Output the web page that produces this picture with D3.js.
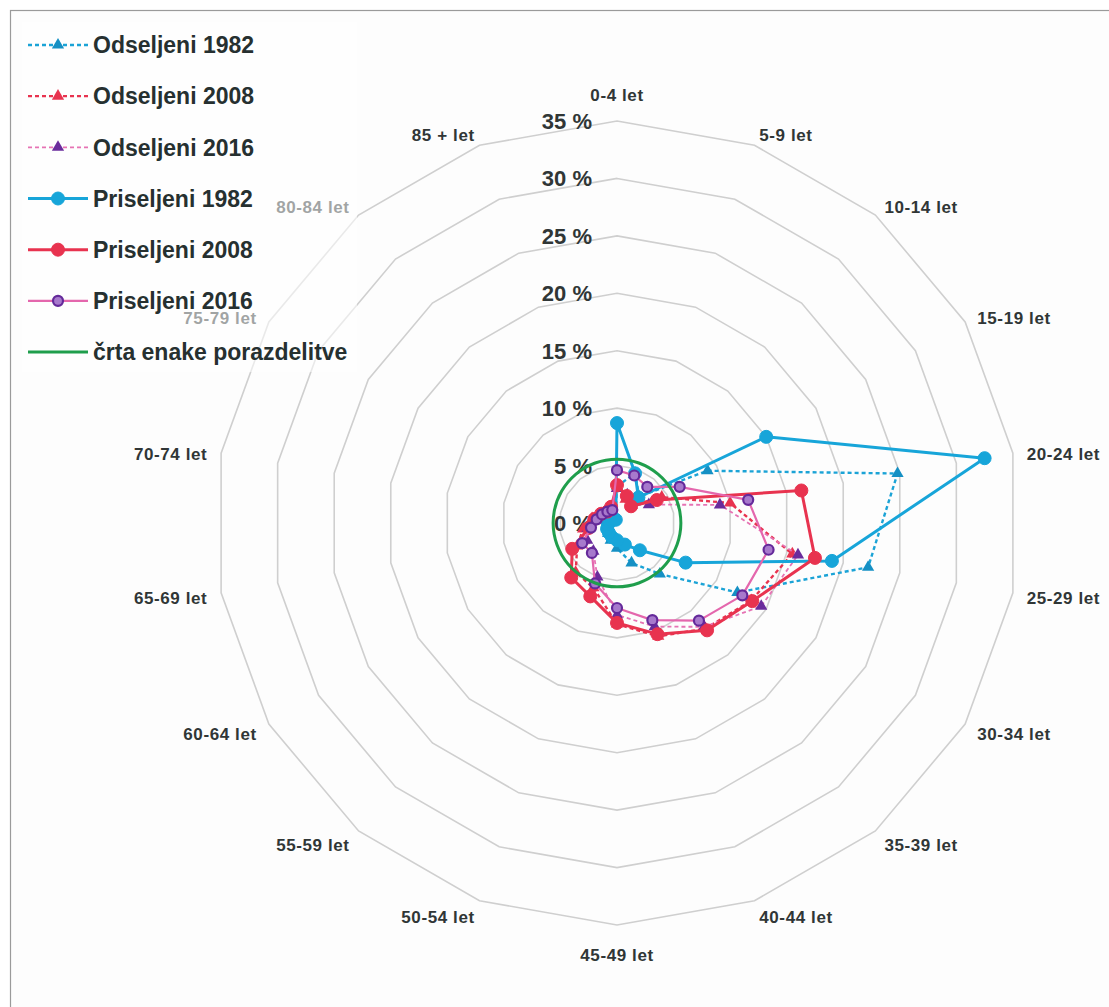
<!DOCTYPE html>
<html>
<head>
<meta charset="utf-8">
<script src="https://cdn.jsdelivr.net/npm/d3@7"></script>
<style>
  body { margin: 0; background: #fff; }
  text { font-family: "Liberation Sans", Arial, sans-serif; }
</style>
</head>
<body>
<svg id="chart" width="1109" height="1007"></svg>
<script>
// Age groups, clockwise from the top
const categories = ["0-4 let", "5-9 let", "10-14 let", "15-19 let", "20-24 let", "25-29 let",
    "30-34 let", "35-39 let", "40-44 let", "45-49 let", "50-54 let", "55-59 let",
    "60-64 let", "65-69 let", "70-74 let", "75-79 let", "80-84 let", "85 + let"];

const tickValues = [0, 5, 10, 15, 20, 25, 30, 35];
const tickLabels = ["0 %", "5 %", "10 %", "15 %", "20 %", "25 %", "30 %", "35 %"];

// shares in %
const odseljeni1982 = [3.2, 4.6, 3.0, 9.1, 24.8, 22.2, 12.1, 5.8, 3.7, 2.2, 1.6, 1.2, 1.0, 0.8, 0.6, 0.5, 0.4, 0.4];
const odseljeni2008 = [3.0, 2.2, 2.0, 4.5, 10.0, 15.5, 13.5, 12.0, 10.5, 8.8, 6.0, 5.6, 4.0, 3.0, 2.2, 1.5, 1.2, 1.0];
const odseljeni2016 = [3.0, 2.6, 2.4, 3.2, 9.1, 16.0, 14.5, 11.8, 9.6, 8.0, 5.0, 3.2, 3.0, 2.6, 2.0, 1.6, 1.3, 1.0];
const priseljeni1982 = [8.7, 4.6, 2.9, 15.0, 32.5, 19.0, 6.9, 3.1, 2.0, 1.5, 1.3, 1.1, 1.0, 0.8, 0.7, 0.5, 0.4, 0.3];
const priseljeni2008 = [3.3, 2.5, 1.9, 4.0, 16.3, 17.5, 13.6, 12.2, 10.3, 8.7, 6.8, 6.2, 4.5, 2.5, 2.0, 1.6, 1.3, 1.5];
const priseljeni2016 = [4.6, 4.4, 4.1, 6.3, 11.6, 13.4, 12.6, 11.1, 9.0, 7.4, 5.6, 3.4, 3.5, 2.3, 1.8, 1.5, 1.3, 1.2];
const enakaPorazdelitev = [5.56, 5.56, 5.56, 5.56, 5.56, 5.56, 5.56, 5.56, 5.56,
    5.56, 5.56, 5.56, 5.56, 5.56, 5.56, 5.56, 5.56, 5.56];

const seriesNames = ["Odseljeni 1982", "Odseljeni 2008", "Odseljeni 2016",
    "Priseljeni 1982", "Priseljeni 2008", "Priseljeni 2016", "črta enake porazdelitve"];
const seriesValues = [odseljeni1982, odseljeni2008, odseljeni2016,
    priseljeni1982, priseljeni2008, priseljeni2016, enakaPorazdelitev];

// look of each series
const styles = [
    { line: "#1ba3d6", dash: "4,3", width: 2.4, marker: "triangle", fill: "#1590c4", stroke: "#1590c4" },
    { line: "#e8334f", dash: "4,3", width: 2.4, marker: "triangle", fill: "#e8334f", stroke: "#e8334f" },
    { line: "#e673b4", dash: "4,3", width: 1.8, marker: "triangle", fill: "#6a2c9c", stroke: "#6a2c9c" },
    { line: "#17a5d9", dash: null, width: 3, marker: "circle", r: 6.5, fill: "#17a5d9", stroke: "#17a5d9" },
    { line: "#e8334f", dash: null, width: 3, marker: "circle", r: 6.5, fill: "#e8334f", stroke: "#e8334f" },
    { line: "#e467ad", dash: null, width: 2.2, marker: "circle", r: 5, fill: "#a779cc", stroke: "#64299a" },
    { line: "#1f9e4c", dash: null, width: 3, marker: null, smooth: true }
];

const svg = d3.select("#chart");
const cx = 617, cy = 523, radius = 402;

// frame
svg.append("rect")
    .attr("x", 10.5).attr("y", 10.5)
    .attr("width", 1120).attr("height", 1020)
    .attr("fill", "#fdfdfd")
    .attr("stroke", "#9a9a9a")
    .attr("stroke-width", 1.2);

const r = d3.scaleLinear().domain([0, 35]).range([0, radius]);
const angle = d3.scaleLinear().domain([0, categories.length]).range([0, 2 * Math.PI]);

const g = svg.append("g").attr("transform", "translate(" + cx + "," + cy + ")");

// rings
const ring = d3.lineRadial()
    .angle((d, i) => angle(i))
    .radius(d => r(d))
    .curve(d3.curveLinearClosed);

g.append("g").selectAll("path")
    .data(tickValues.filter(t => t > 0)).enter()
    .append("path")
    .attr("d", t => ring(categories.map(() => t)))
    .attr("fill", "none")
    .attr("stroke", "#cfcfcf")
    .attr("stroke-width", 1.6);

// category labels
const labelR = radius + 14;
g.append("g").selectAll("text")
    .data(categories).enter()
    .append("text")
    .attr("x", (d, i) => Math.sin(angle(i)) * labelR)
    .attr("y", (d, i) => {
        const c = Math.cos(angle(i));
        let extra = 3;
        if (Math.abs(Math.sin(angle(i))) < 0.1) extra = c > 0 ? -12 : 16;
        return -c * labelR + extra;
    })
    .attr("dy", "0.35em")
    .attr("text-anchor", (d, i) => {
        const s = Math.sin(angle(i));
        return s > 0.1 ? "start" : (s < -0.1 ? "end" : "middle");
    })
    .attr("font-size", 17)
    .attr("font-weight", "bold")
    .attr("letter-spacing", 0.6)
    .attr("fill", "#303636")
    .text(d => d);

// value labels
g.append("g").selectAll("text")
    .data(tickValues).enter()
    .append("text")
    .attr("x", -25)
    .attr("y", t => -r(t))
    .attr("dy", "0.36em")
    .attr("text-anchor", "end")
    .attr("font-size", 22)
    .attr("font-weight", "bold")
    .attr("fill", "#303636")
    .text((t, i) => tickLabels[i]);

// series
const tri = d3.symbol().type(d3.symbolTriangle).size(65);

seriesValues.forEach((values, s) => {
    const st = styles[s];
    const line = d3.lineRadial()
        .angle((d, i) => angle(i))
        .radius(d => r(d))
        .curve(st.smooth ? d3.curveCardinalClosed : d3.curveLinearClosed);

    const sg = g.append("g").attr("class", "series");
    sg.append("path")
        .attr("d", line(values))
        .attr("fill", "none")
        .attr("stroke", st.line)
        .attr("stroke-width", st.width)
        .attr("stroke-dasharray", st.dash)
        .attr("stroke-linejoin", "round");

    if (!st.marker) return;
    const pts = values.map((v, i) => d3.pointRadial(angle(i), r(v)));
    if (st.marker === "triangle") {
        sg.selectAll("path.m").data(pts).enter()
            .append("path").attr("class", "m")
            .attr("d", tri)
            .attr("transform", p => "translate(" + p[0] + "," + p[1] + ")")
            .attr("fill", st.fill);
    } else {
        sg.selectAll("circle").data(pts).enter()
            .append("circle")
            .attr("cx", p => p[0]).attr("cy", p => p[1])
            .attr("r", st.r)
            .attr("fill", st.fill)
            .attr("stroke", st.stroke)
            .attr("stroke-width", s === 5 ? 2.2 : 1);
    }
});

// legend, on a half see-through white box
const legend = svg.append("g");
legend.append("rect")
    .attr("x", 22).attr("y", 22)
    .attr("width", 335).attr("height", 350)
    .attr("fill", "#fff")
    .attr("fill-opacity", 0.55);

const rowY = d3.scalePoint().domain(seriesNames).range([45, 352]);

seriesNames.forEach((name, s) => {
    const st = styles[s];
    const y = rowY(name);
    const row = legend.append("g");
    row.append("line")
        .attr("x1", 28).attr("x2", 88)
        .attr("y1", y).attr("y2", y)
        .attr("stroke", st.line)
        .attr("stroke-width", st.width)
        .attr("stroke-dasharray", st.dash);
    if (st.marker === "triangle") {
        row.append("path")
            .attr("d", tri)
            .attr("transform", "translate(58," + y + ")")
            .attr("fill", st.fill);
    } else if (st.marker === "circle") {
        row.append("circle")
            .attr("cx", 58).attr("cy", y)
            .attr("r", st.r)
            .attr("fill", st.fill)
            .attr("stroke", st.stroke)
            .attr("stroke-width", s === 5 ? 2.2 : 1);
    }
    row.append("text")
        .attr("x", 93).attr("y", y)
        .attr("dy", "0.36em")
        .attr("font-size", 23)
        .attr("font-weight", "bold")
        .attr("fill", "#263030")
        .text(name);
});
</script>
</body>
</html>
